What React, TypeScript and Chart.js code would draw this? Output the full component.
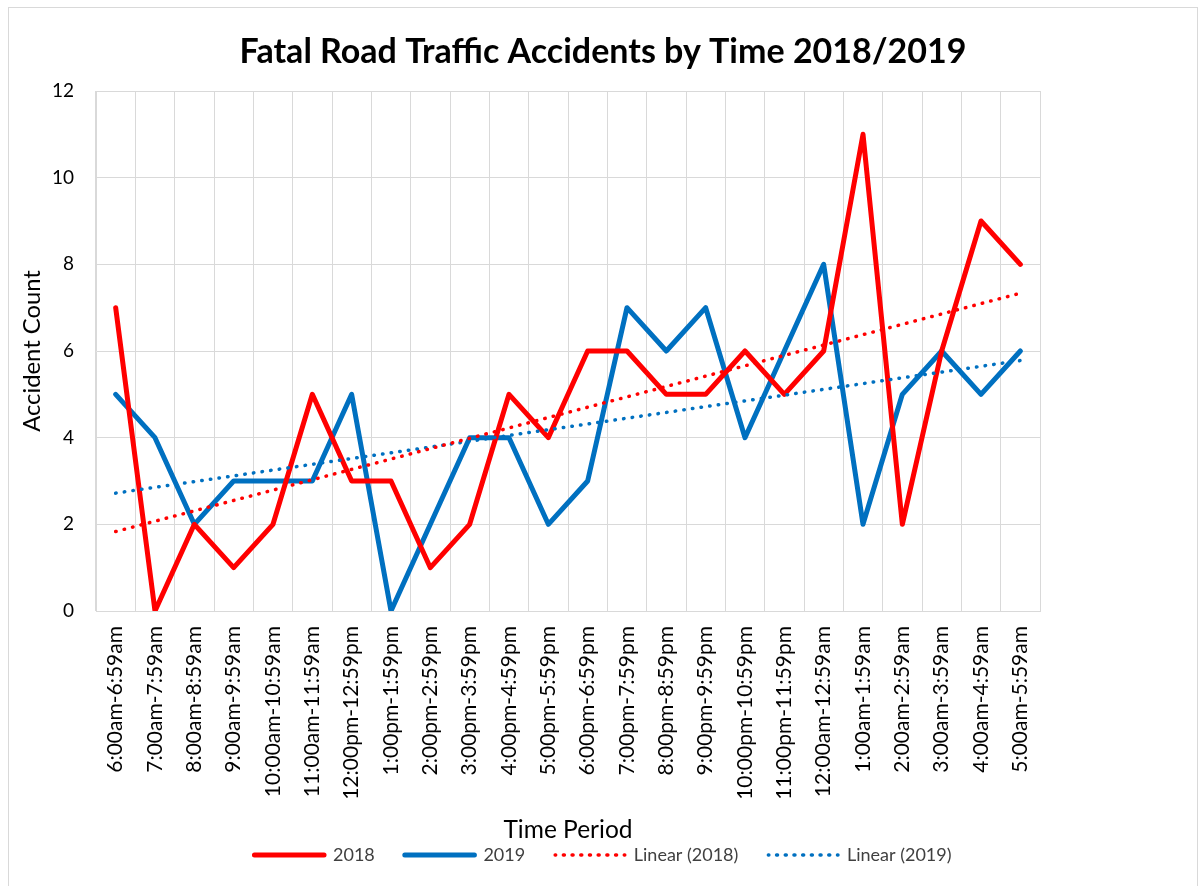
import React, { useEffect, useRef } from 'react';
import { Chart, registerables } from 'chart.js';

Chart.register(...registerables);

const categories = [
  '6:00am-6:59am', '7:00am-7:59am', '8:00am-8:59am', '9:00am-9:59am',
  '10:00am-10:59am', '11:00am-11:59am', '12:00pm-12:59pm', '1:00pm-1:59pm',
  '2:00pm-2:59pm', '3:00pm-3:59pm', '4:00pm-4:59pm', '5:00pm-5:59pm',
  '6:00pm-6:59pm', '7:00pm-7:59pm', '8:00pm-8:59pm', '9:00pm-9:59pm',
  '10:00pm-10:59pm', '11:00pm-11:59pm', '12:00am-12:59am', '1:00am-1:59am',
  '2:00am-2:59am', '3:00am-3:59am', '4:00am-4:59am', '5:00am-5:59am',
];

const values2018 = [7, 0, 2, 1, 2, 5, 3, 3, 1, 2, 5, 4, 6, 6, 5, 5, 6, 5, 6, 11, 2, 6, 9, 8];
const values2019 = [5, 4, 2, 3, 3, 3, 5, 0, 2, 4, 4, 2, 3, 7, 6, 7, 4, 6, 8, 2, 5, 6, 5, 6];

const yMin = 0;
const yMax = 12;
const yStep = 2;

const titleText = 'Fatal Road Traffic Accidents by Time 2018/2019';
const xTitle = 'Time Period';
const yTitle = 'Accident Count';

// Least-squares linear trendline (as Excel's "Linear" trendline) from the series values
function linearTrend(values: number[]): number[] {
  const n = values.length;
  const mx = (n + 1) / 2;
  const my = values.reduce((a, b) => a + b, 0) / n;
  let sxy = 0;
  let sxx = 0;
  values.forEach((v, i) => {
    const dx = i + 1 - mx;
    sxy += dx * (v - my);
    sxx += dx * dx;
  });
  const slope = sxy / sxx;
  return values.map((_, i) => my + slope * (i + 1 - mx));
}

const RED = '#FF0000';
const BLUE = '#0070C0';
const GRID = '#d9d9d9';
const FONT = 'Lato';
const DOTS = [0.5, 8.2];

export default function App() {
  const ref = useRef<HTMLCanvasElement>(null);

  useEffect(() => {
    if (!ref.current) return;
    Chart.defaults.font.family = FONT;
    const chart = new Chart(ref.current, {
      type: 'line',
      data: {
        labels: categories,
        datasets: [
          {
            label: '2018',
            data: values2018,
            borderColor: RED,
            backgroundColor: RED,
            borderWidth: 5,
            pointRadius: 0,
            borderJoinStyle: 'round',
            borderCapStyle: 'round',
            tension: 0,
            order: 1,
          },
          {
            label: '2019',
            data: values2019,
            borderColor: BLUE,
            backgroundColor: BLUE,
            borderWidth: 5,
            pointRadius: 0,
            borderJoinStyle: 'round',
            borderCapStyle: 'round',
            tension: 0,
            order: 2,
          },
          {
            label: 'Linear (2018)',
            data: linearTrend(values2018),
            borderColor: RED,
            backgroundColor: RED,
            borderWidth: 3.5,
            borderDash: DOTS,
            borderCapStyle: 'round',
            pointRadius: 0,
            order: 0,
          },
          {
            label: 'Linear (2019)',
            data: linearTrend(values2019),
            borderColor: BLUE,
            backgroundColor: BLUE,
            borderWidth: 3.5,
            borderDash: DOTS,
            borderCapStyle: 'round',
            pointRadius: 0,
            order: 0,
          },
        ],
      },
      options: {
        responsive: false,
        animation: false,
        layout: { padding: { top: 0, left: 0, right: 0, bottom: 12 } },
        plugins: {
          tooltip: { enabled: false },
          title: {
            display: true,
            text: titleText,
            color: '#000',
            font: { family: FONT, size: 34, weight: 'bold' },
            padding: { top: 23.6, bottom: 18.6 },
          },
          legend: {
            position: 'bottom',
            labels: {
              boxWidth: 69.6,
              boxHeight: 0,
              color: '#404040',
              font: { family: FONT, size: 18 },
              padding: 30,
              sort: (a: any, b: any) => a.datasetIndex - b.datasetIndex,
            },
          },
        },
        scales: {
          x: {
            offset: true,
            grid: { offset: true, color: GRID, drawTicks: false },
            border: { color: GRID },
            ticks: {
              autoSkip: false,
              maxRotation: 90,
              minRotation: 90,
              padding: 15,
              color: '#000',
              font: { family: FONT, size: 21 },
            },
            title: {
              display: true,
              text: xTitle,
              color: '#000',
              font: { family: FONT, size: 24.5 },
              padding: { top: 0, bottom: -29.2 },
            },
            afterFit: (s: any) => {
              s.height = 205;
            },
          },
          y: {
            min: yMin,
            max: yMax,
            grid: { color: GRID, drawTicks: false },
            border: { color: GRID },
            ticks: {
              stepSize: yStep,
              padding: 22,
              color: '#000',
              font: { family: FONT, size: 19 },
            },
            title: {
              display: true,
              text: yTitle,
              color: '#000',
              font: { family: FONT, size: 23.8 },
              padding: { top: 9, bottom: 0 },
            },
            afterFit: (s: any) => {
              s.width = 87;
            },
          },
          yRight: {
            position: 'right',
            display: true,
            grid: { display: false },
            border: { display: false },
            ticks: { display: false },
            afterFit: (s: any) => {
              s.width = 157;
            },
          },
        },
      },
    } as any);
    return () => chart.destroy();
  }, []);

  return (
    <div
      style={{
        position: 'absolute',
        left: 8,
        top: 7,
        width: 1188,
        height: 878,
        border: '1px solid #d9d9d9',
        borderBottom: 'none',
        background: '#fff',
      }}
    >
      <canvas ref={ref} width={1188} height={878} style={{ display: 'block', width: 1188, height: 878 }} />
    </div>
  );
}
